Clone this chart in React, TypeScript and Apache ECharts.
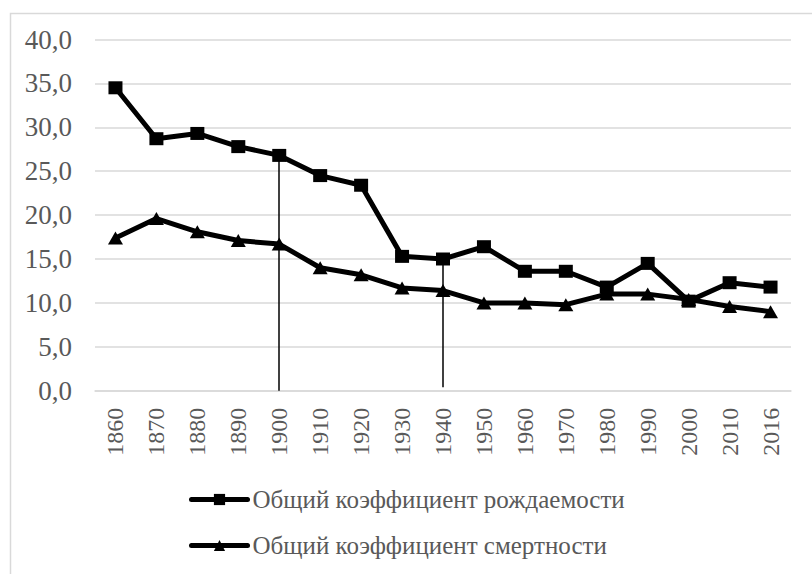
import React, { useEffect, useRef } from "react";
import * as echarts from "echarts";

const years = ["1860","1870","1880","1890","1900","1910","1920","1930","1940","1950","1960","1970","1980","1990","2000","2010","2016"];
const birthRate = [34.5, 28.7, 29.3, 27.8, 26.8, 24.5, 23.4, 15.3, 15.0, 16.4, 13.6, 13.6, 11.8, 14.5, 10.2, 12.3, 11.8];
const deathRate = [17.4, 19.6, 18.1, 17.1, 16.7, 14.0, 13.2, 11.7, 11.4, 10.0, 10.0, 9.8, 11.0, 11.0, 10.4, 9.6, 9.0];
const seriesNames = ["Общий коэффициент рождаемости", "Общий коэффициент смертности"];
const dropYears = ["1900", "1940"];
const dropEnds = [0, 0.4];

const FONT = "Times New Roman, Liberation Serif, DejaVu Serif, serif";

export default function App() {
  const ref = useRef<HTMLDivElement>(null);
  useEffect(() => {
    if (!ref.current) return;
    const chart = echarts.init(ref.current, null, { renderer: "svg" });
    const dropLines = dropYears.map((y, i) => {
      const idx = years.indexOf(y);
      return [
        { coord: [y, birthRate[idx]], symbol: "none" },
        { coord: [y, dropEnds[i]], symbol: "none" },
      ];
    });
    chart.setOption({
      animation: false,
      backgroundColor: "#ffffff",
      textStyle: { fontFamily: FONT },
      graphic: [
        {
          type: "rect",
          left: 8,
          top: 11,
          shape: { x: 0, y: 0, width: 830, height: 600 },
          style: { fill: "none", stroke: "#d9d9d9", lineWidth: 1.5 },
          silent: true,
          z: -10,
        },
      ],
      grid: { left: 95, right: 21, top: 39.5, bottom: 183.3, containLabel: false },
      xAxis: {
        type: "category",
        data: years,
        boundaryGap: true,
        axisLine: { show: true, lineStyle: { color: "#d9d9d9", width: 1.5 } },
        axisTick: { show: false },
        axisLabel: {
          rotate: 90,
          margin: 17,
          color: "#595959",
          fontSize: 24,
          fontFamily: FONT,
        },
      },
      yAxis: {
        type: "value",
        min: 0,
        max: 40,
        interval: 5,
        axisLine: { show: false },
        axisTick: { show: false },
        splitLine: { lineStyle: { color: "#d9d9d9", width: 1.5 } },
        axisLabel: {
          color: "#595959",
          fontSize: 27,
          fontFamily: FONT,
          margin: 23,
          formatter: (v: number) => v.toFixed(1).replace(".", ","),
        },
      },
      legend: {
        orient: "vertical",
        left: 189,
        top: 487,
        padding: 0,
        itemWidth: 56,
        itemHeight: 14,
        itemGap: 21,
        lineStyle: { width: 5, cap: "round" },
        textStyle: { color: "#595959", fontSize: 25, fontFamily: FONT },
        data: seriesNames,
      },
      series: [
        {
          name: seriesNames[0],
          type: "line",
          data: birthRate,
          symbol: "rect",
          symbolSize: [14, 13],
          lineStyle: { color: "#000", width: 5 },
          itemStyle: { color: "#000" },
          markLine: {
            silent: true,
            symbol: ["none", "none"],
            label: { show: false },
            lineStyle: { color: "#000", width: 1.5, type: "solid" },
            data: dropLines,
          },
        },
        {
          name: seriesNames[1],
          type: "line",
          data: deathRate,
          symbol: "triangle",
          symbolSize: [15, 13],
          lineStyle: { color: "#000", width: 5 },
          itemStyle: { color: "#000" },
        },
      ],
    });
    return () => chart.dispose();
  }, []);
  return (
    <div
      ref={ref}
      style={{ position: "fixed", left: 0, top: 0, width: 812, height: 574 }}
    />
  );
}
